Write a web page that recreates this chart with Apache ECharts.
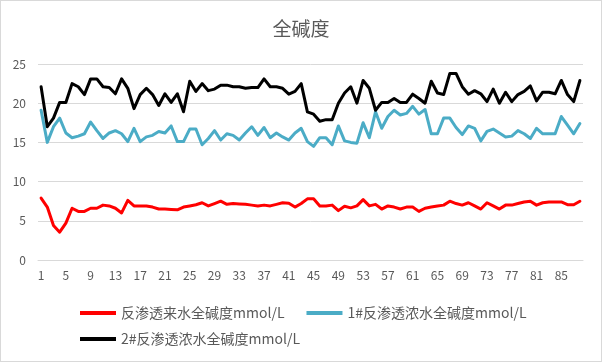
<!DOCTYPE html>
<html>
<head>
<meta charset="utf-8">
<script src="https://cdn.jsdelivr.net/npm/echarts@6/dist/echarts.min.js"></script>
<style>
html,body{margin:0;padding:0;background:#fff;}
#c{position:absolute;left:0;top:0;width:600px;height:360px;border:1px solid #d9d9d9;}
</style>
</head>
<body>
<div id="c"></div>
<script>
var categories = [];
for (var k = 1; k <= 88; k++) categories.push(String(k));

var seriesNames = ['反渗透来水全碱度mmol/L', '1#反渗透浓水全碱度mmol/L', '2#反渗透浓水全碱度mmol/L'];

var feedWater = [7.9,6.75,4.4,3.55,4.7,6.6,6.2,6.2,6.6,6.6,7.0,6.9,6.6,6.0,7.6,6.9,6.9,6.9,6.75,6.5,
6.5,6.45,6.4,6.75,6.9,7.05,7.3,6.9,7.2,7.5,7.1,7.2,7.15,7.1,7.0,6.9,7.0,6.9,7.1,7.3,
7.25,6.75,7.2,7.8,7.8,6.9,6.9,7.0,6.3,6.85,6.65,6.9,7.7,6.9,7.1,6.5,6.9,6.75,6.5,6.75,
6.75,6.2,6.6,6.75,6.9,7.0,7.5,7.2,7.0,7.3,6.9,6.5,7.3,6.9,6.5,7.0,7.0,7.2,7.4,7.5,
7.0,7.3,7.4,7.4,7.4,7.05,7.05,7.5];

var conc1 = [19.1,15.0,17.0,18.1,16.2,15.6,15.8,16.1,17.6,16.5,15.5,16.2,16.5,16.1,15.1,16.8,15.1,15.7,15.9,16.4,
16.2,17.1,15.1,15.1,16.7,16.7,14.7,15.5,16.5,15.3,16.1,15.9,15.3,16.2,17.0,15.9,16.9,15.6,16.2,15.7,
15.3,16.2,16.8,15.1,14.5,15.6,15.6,14.7,17.1,15.2,15.0,14.9,17.5,15.6,18.9,16.8,18.3,19.1,18.5,18.7,
19.6,18.6,19.2,16.1,16.1,18.1,18.1,16.9,16.0,17.1,16.8,15.2,16.4,16.7,16.2,15.7,15.8,16.5,16.1,15.5,
16.8,16.1,16.1,16.1,18.3,17.2,16.1,17.4];

var conc2 = [22.1,17.0,18.1,20.1,20.1,22.5,22.1,21.1,23.1,23.1,22.1,22.0,21.2,23.1,21.9,19.3,21.1,21.9,21.1,19.7,
21.2,20.1,21.2,18.9,22.8,21.5,22.5,21.6,21.8,22.3,22.3,22.1,22.1,21.9,22.0,22.0,23.1,22.1,22.1,21.9,
21.15,21.5,22.5,18.9,18.6,17.7,17.9,17.9,20.0,21.3,22.1,20.0,22.9,21.9,19.1,20.1,20.1,20.6,20.1,20.1,
21.15,20.6,20.0,22.8,21.3,21.1,23.8,23.8,22.1,21.15,21.6,21.2,20.2,21.8,20.0,21.4,20.2,21.1,21.5,22.2,
20.3,21.4,21.4,21.2,22.9,21.1,20.2,22.9];

var yTicks = [0, 5, 10, 15, 20, 25];

var chart = echarts.init(document.getElementById('c'), null, {renderer: 'canvas'});
var font = '"Noto Sans CJK SC", "Noto Sans", sans-serif';
function line(name, data, color) {
  return {
    name: name, type: 'line', data: data, symbol: 'none', smooth: false,
    lineStyle: {color: color, width: 3, join: 'round', cap: 'round'},
    itemStyle: {color: color}
  };
}
function legend(top, names) {
  return {
    left: 79, top: top, orient: 'horizontal', padding: 0,
    itemWidth: 36, itemHeight: 4, itemGap: 22, icon: 'rect',
    textStyle: {fontFamily: font, fontSize: 14, color: '#595959'},
    data: names
  };
}
chart.setOption({
  animation: false,
  backgroundColor: '#fff',
  title: {
    text: '全碱度', left: 'center', top: 13,
    textStyle: {fontFamily: font, fontSize: 19, fontWeight: 'normal', color: '#595959'}
  },
  grid: {left: 37, right: 18, top: 63, bottom: 101, containLabel: false},
  xAxis: {
    type: 'category', data: categories, boundaryGap: true,
    axisLine: {lineStyle: {color: '#d9d9d9', width: 1}},
    axisTick: {show: false},
    axisLabel: {interval: 3, color: '#595959', fontSize: 12, fontFamily: font, margin: 9}
  },
  yAxis: {
    type: 'value', min: yTicks[0], max: yTicks[yTicks.length - 1], interval: 5,
    axisLine: {show: false}, axisTick: {show: false},
    splitLine: {lineStyle: {color: '#d9d9d9', width: 1}},
    axisLabel: {color: '#595959', fontSize: 12, fontFamily: font, margin: 12}
  },
  legend: [
    legend(305, [seriesNames[0], seriesNames[1]]),
    legend(331, [seriesNames[2]])
  ],
  series: [
    line(seriesNames[0], feedWater, '#FF0000'),
    line(seriesNames[1], conc1, '#4BACC6'),
    line(seriesNames[2], conc2, '#000000')
  ]
});
</script>
</body>
</html>
